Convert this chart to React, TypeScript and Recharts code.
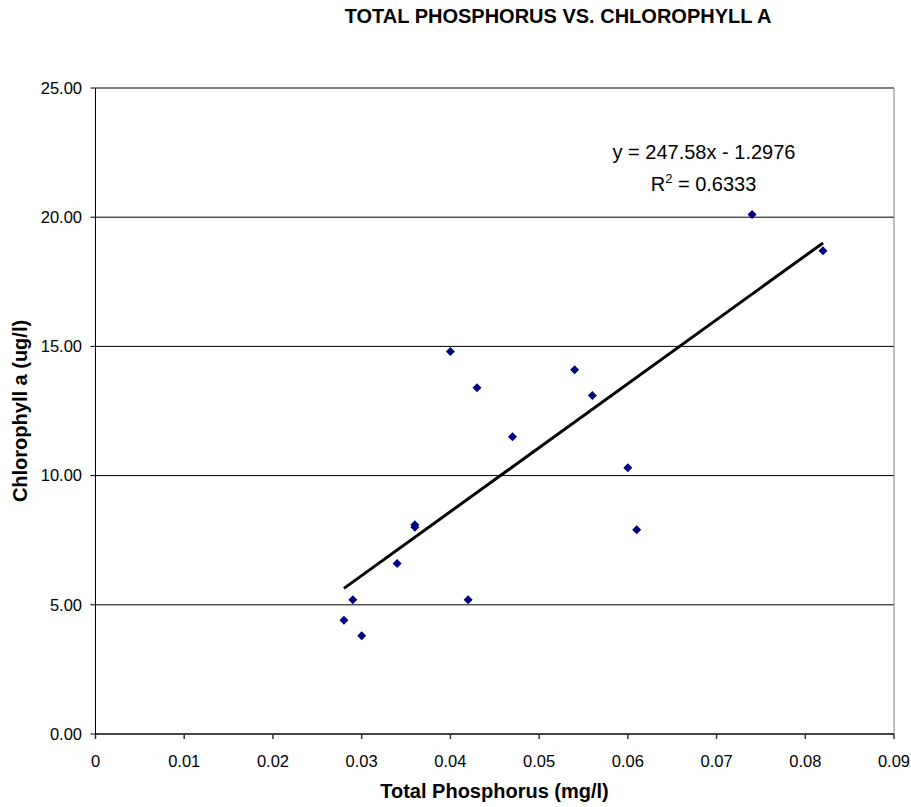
import { ScatterChart, Scatter, XAxis, YAxis, CartesianGrid, ReferenceLine } from 'recharts'

// Total phosphorus (mg/l) and chlorophyll a (ug/l) samples
const phosphorus = [0.028, 0.029, 0.03, 0.034, 0.036, 0.036, 0.04, 0.042, 0.043, 0.047, 0.054, 0.056, 0.06, 0.061, 0.074, 0.082]
const chlorophyll = [4.4, 5.2, 3.8, 6.6, 8.1, 8.0, 14.8, 5.2, 13.4, 11.5, 14.1, 13.1, 10.3, 7.9, 20.1, 18.7]

const xTicks = [0, 0.01, 0.02, 0.03, 0.04, 0.05, 0.06, 0.07, 0.08, 0.09]
const yTicks = [0, 5, 10, 15, 20, 25]

// linear trendline as printed on the chart
const slope = 247.58
const intercept = -1.2976
const trendRange = [0.028, 0.082]

const points = phosphorus.map((x, i) => ({ x, y: chlorophyll[i] }))
const trend = trendRange.map((x) => ({ x, y: slope * x + intercept }))

const font = 'Arial, "Liberation Sans", sans-serif'

function Diamond(props: any) {
    const { cx, cy } = props
    if (cx == null || cy == null) return null
    const r = 4.5
    return <path d={`M${cx},${cy - r}L${cx + r},${cy}L${cx},${cy + r}L${cx - r},${cy}Z`} fill="#000080" />
}

export default function App() {
    return (
        <div style={{ position: 'absolute', left: 0, top: 0, width: 911, height: 807, background: '#fff', fontFamily: font }}>
            <ScatterChart
                width={911}
                height={807}
                margin={{ top: 88, right: 17, left: 15.5, bottom: 43 }}
            >
                <CartesianGrid horizontal vertical={false} stroke="#000" strokeWidth={1} />
                <ReferenceLine y={25} stroke="#808080" />
                <ReferenceLine x={0.09} stroke="#808080" />
                <XAxis
                    type="number"
                    dataKey="x"
                    domain={[0, 0.09]}
                    ticks={xTicks}
                    height={30}
                    stroke="#333"
                    strokeWidth={1.5}
                    tickSize={5}
                    tickMargin={16}
                    tick={{ fill: '#000', fontSize: 16.5, fontFamily: font }}
                    tickFormatter={(v) => String(v)}
                />
                <YAxis
                    type="number"
                    dataKey="y"
                    domain={[0, 25]}
                    ticks={yTicks}
                    width={80}
                    stroke="#000"
                    tickSize={5}
                    tickMargin={8.5}
                    tick={{ fill: '#000', fontSize: 16.5, fontFamily: font }}
                    tickFormatter={(v) => Number(v).toFixed(2)}
                />
                <Scatter data={trend} line={{ stroke: '#000', strokeWidth: 3 }} shape={() => null} isAnimationActive={false} />
                <Scatter data={points} shape={Diamond} isAnimationActive={false} />
                <text x={558} y={23} textAnchor="middle" fontSize={20} fontWeight="bold" fontFamily={font} fill="#000">
                    TOTAL PHOSPHORUS VS. CHLOROPHYLL A
                </text>
                <text x={494.5} y={798} textAnchor="middle" fontSize={20} fontWeight="bold" fontFamily={font} fill="#000">
                    Total Phosphorus (mg/l)
                </text>
                <text x={27} y={411} transform="rotate(-90 27 411)" textAnchor="middle" fontSize={20} fontWeight="bold" fontFamily={font} fill="#000">
                    Chlorophyll a (ug/l)
                </text>
                <text x={704} y={159} textAnchor="middle" fontSize={20} fontFamily={font} fill="#000">
                    y = 247.58x - 1.2976
                </text>
                <text x={703.5} y={191} textAnchor="middle" fontSize={20} fontFamily={font} fill="#000">
                    R<tspan dy={-8} fontSize={13}>2</tspan><tspan dy={8}> = 0.6333</tspan>
                </text>
            </ScatterChart>
        </div>
    )
}
